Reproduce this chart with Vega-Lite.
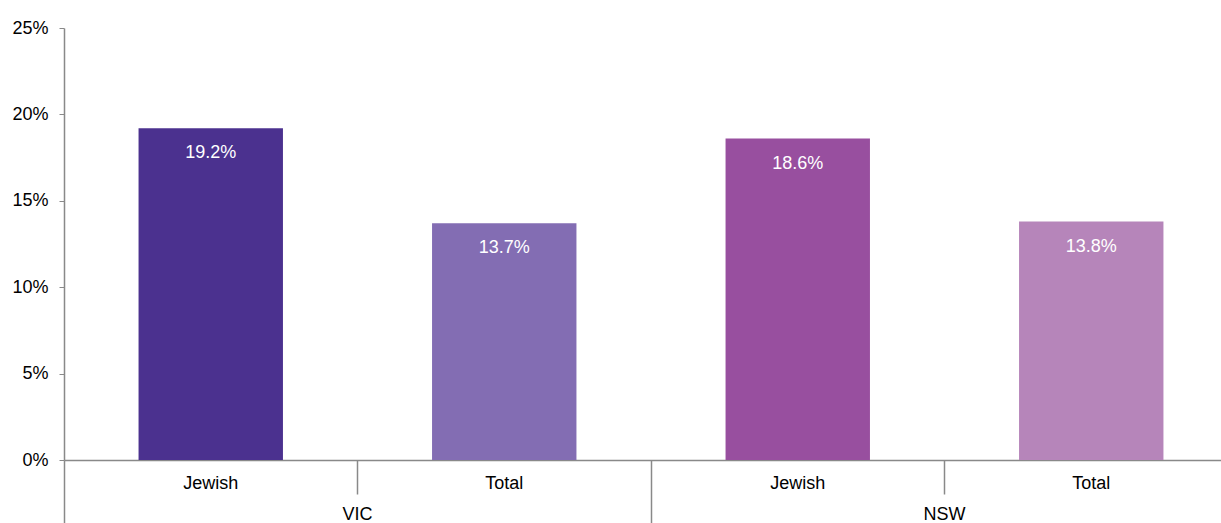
{
  "$schema": "https://vega.github.io/schema/vega-lite/v6.json",
  "width": 1157,
  "height": 432,
  "autosize": {"type": "none"},
  "padding": {"left": 64, "top": 28, "right": 0, "bottom": 63},
  "background": "white",
  "config": {
    "font": "Liberation Sans",
    "view": {"stroke": null},
    "axis": {"labelFont": "Liberation Sans", "labelFontSize": 18, "labelColor": "#000000", "domainColor": "#898989", "tickColor": "#898989", "grid": false, "title": null}
  },
  "data": {
    "values": [
      {"cat": "VIC|Jewish", "grp": "VIC", "sub": "Jewish", "value": 0.192},
      {"cat": "VIC|Total", "grp": "VIC", "sub": "Total", "value": 0.137},
      {"cat": "NSW|Jewish", "grp": "NSW", "sub": "Jewish", "value": 0.186},
      {"cat": "NSW|Total", "grp": "NSW", "sub": "Total", "value": 0.138}
    ]
  },
  "resolve": {"axis": {"x": "independent"}},
  "layer": [
    {
      "mark": {"type": "bar"},
      "encoding": {
        "x": {
          "field": "cat", "type": "nominal", "sort": null,
          "scale": {"range": [0, 1174], "paddingInner": 0.508, "paddingOuter": 0.254},
          "axis": {"orient": "bottom", "labelExpr": "split(datum.value, '|')[1]", "labelAngle": 0, "ticks": false, "labelPadding": 14, "domain": true, "domainWidth": 1.5}
        },
        "y": {
          "field": "value", "type": "quantitative",
          "scale": {"domain": [0, 0.25], "nice": false},
          "axis": {"values": [0, 0.05, 0.1, 0.15, 0.2, 0.25], "format": ".0%", "tickSize": 5, "labelPadding": 11, "domainWidth": 1.5}
        },
        "color": {
          "field": "cat", "type": "nominal", "sort": null,
          "scale": {"domain": ["VIC|Jewish", "VIC|Total", "NSW|Jewish", "NSW|Total"], "range": ["#4B318F", "#836DB3", "#984F9F", "#B685BA"]},
          "legend": null
        }
      }
    },
    {
      "mark": {"type": "text", "color": "white", "fontSize": 18, "baseline": "middle", "dy": 25},
      "encoding": {
        "x": {
          "field": "cat", "type": "nominal", "sort": null,
          "axis": {"orient": "bottom", "bandPosition": -0.516, "labels": false, "domain": false, "ticks": true, "tickWidth": 1.5,
                   "tickSize": {"condition": {"test": "indexof(datum.value, 'Jewish') >= 0", "value": 63}, "value": 34}}
        },
        "y": {"field": "value", "type": "quantitative"},
        "text": {"field": "value", "type": "quantitative", "format": ".1%"}
      }
    },
    {
      "mark": {"type": "bar", "opacity": 0},
      "encoding": {
        "x": {
          "field": "cat", "type": "nominal", "sort": null,
          "axis": {"orient": "bottom", "labelExpr": "indexof(datum.value, 'Jewish') >= 0 ? split(datum.value, '|')[0] : ''", "labelAngle": 0, "labelOffset": 146.75, "ticks": false, "domain": false, "labelPadding": 45}
        },
        "y": {"field": "value", "type": "quantitative"}
      }
    }
  ]
}
